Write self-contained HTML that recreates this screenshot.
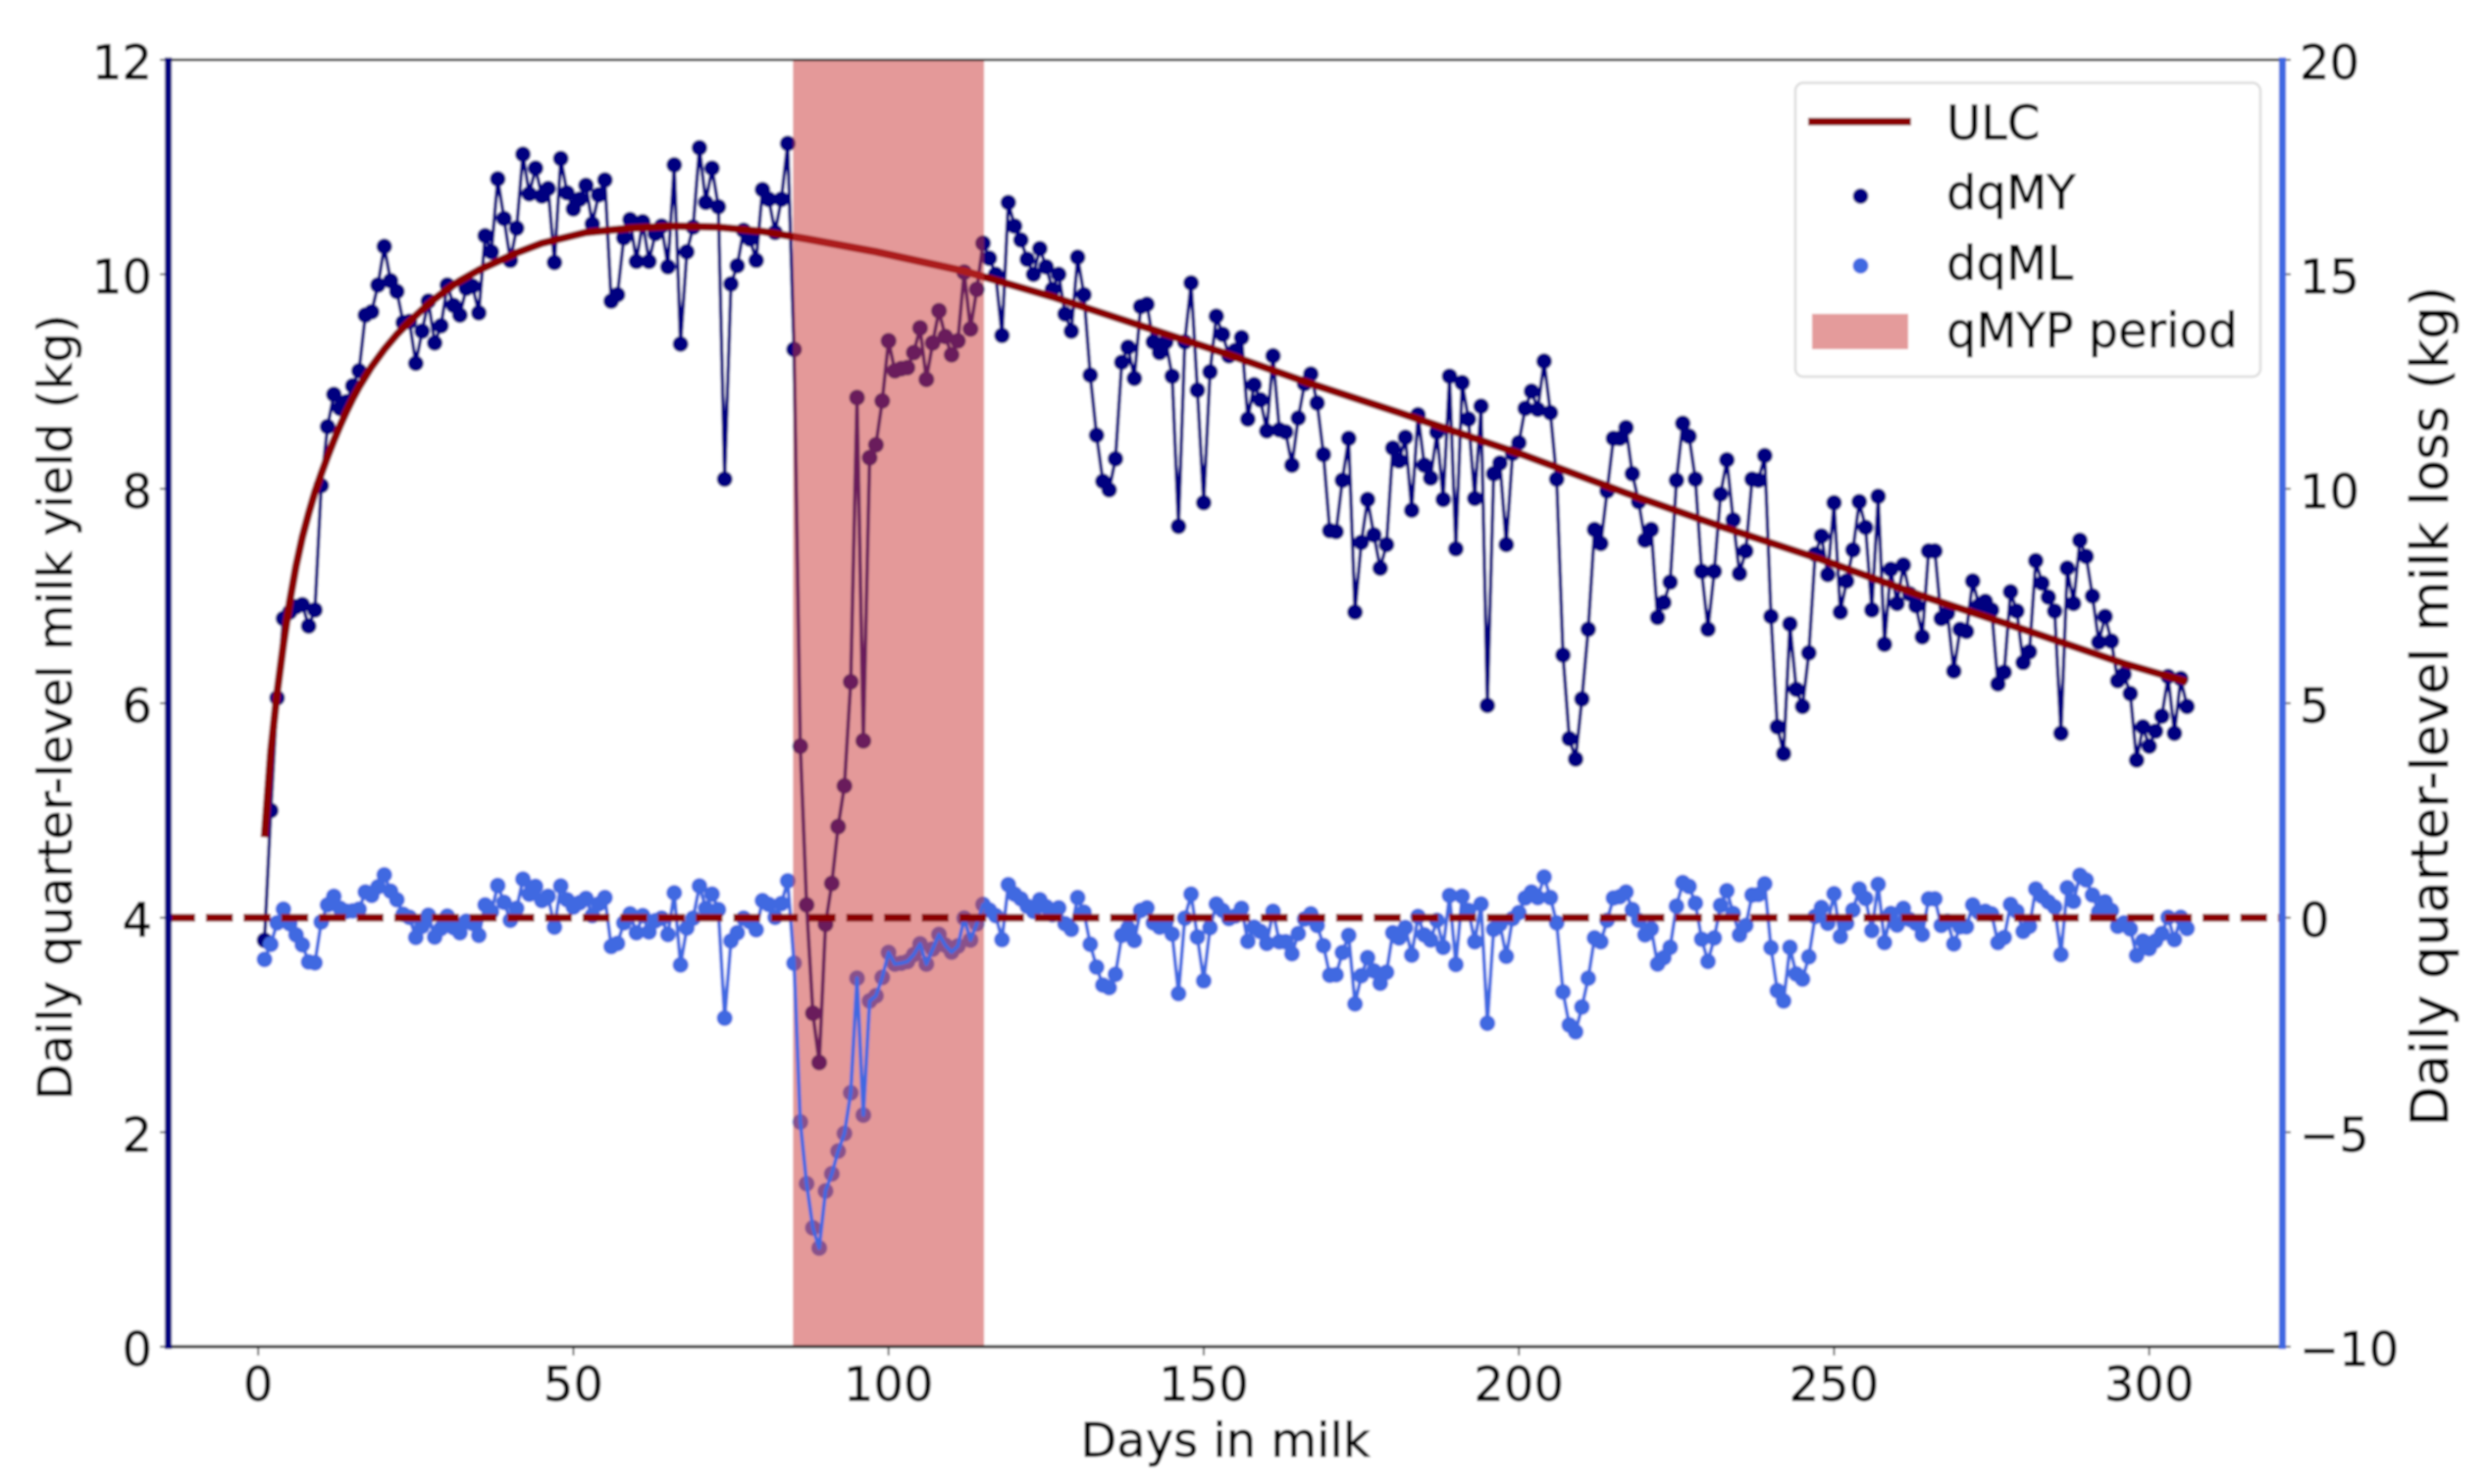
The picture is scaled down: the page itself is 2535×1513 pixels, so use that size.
<!DOCTYPE html>
<html lang="en">
<head>
<meta charset="utf-8">
<title>Daily quarter-level milk yield and loss</title>
<style>
html,body{margin:0;padding:0;background:#fff;}
svg{display:block;}
text{font-family:"DejaVu Sans","Liberation Sans",sans-serif;fill:#000;stroke:#000;stroke-width:0.7px;}
</style>
</head>
<body>
<svg id="chart" xmlns="http://www.w3.org/2000/svg" width="2535" height="1513" viewBox="0 0 2535 1513">
<defs>
<filter id="soft" x="0" y="0" width="100%" height="100%" filterUnits="userSpaceOnUse" primitiveUnits="userSpaceOnUse"><feGaussianBlur stdDeviation="1.1"/></filter>
<clipPath id="plotClip"><rect x="171" y="61" width="2155.5" height="1312"/></clipPath>
</defs>
<g id="root" filter="url(#soft)">
<rect x="0" y="0" width="2535" height="1513" fill="#fff"/>
<g id="plot"></g>
<g id="axes"></g>
<text x="1249" y="1485" font-size="48" text-anchor="middle">Days in milk</text>
<text transform="translate(73,721) rotate(-90)" font-size="48" text-anchor="middle">Daily quarter-level milk yield (kg)</text>
<text transform="translate(2495,720) rotate(-90)" font-size="52.8" text-anchor="middle">Daily quarter-level milk loss (kg)</text>
<g>
<rect x="1830" y="84.5" width="474" height="299.5" rx="8" fill="#fff" fill-opacity="0.9" stroke="#dcdcdc" stroke-width="2.5"/>
<line x1="1843" y1="124" x2="1948" y2="124" stroke="#8b0000" stroke-width="8"/>
<circle cx="1896.5" cy="200" r="8" fill="#000080"/>
<circle cx="1896.5" cy="271" r="8" fill="#4169e1"/>
<rect x="1847" y="320" width="98" height="36" fill="#e49b9b"/>
<text x="1984" y="142" font-size="48">ULC</text>
<text x="1984" y="213" font-size="48">dqMY</text>
<text x="1984" y="285" font-size="48">dqML</text>
<text x="1984" y="354" font-size="49" textLength="297" lengthAdjust="spacingAndGlyphs">qMYP period</text>
</g>
</g>
</svg>
<script>
// Values (day 1 .. 306)
const dqMY = [
3.79,5.0,6.05,6.79,6.85,6.9,6.92,6.72,6.87,8.03,
8.58,8.88,8.75,8.81,8.96,9.1,9.62,9.65,9.9,10.26,
9.94,9.84,9.55,9.56,9.17,9.47,9.75,9.36,9.52,9.9,
9.71,9.62,9.87,9.89,9.64,10.36,10.21,10.89,10.52,10.13,
10.43,11.12,10.75,10.99,10.73,10.8,10.11,11.08,10.76,10.61,
10.7,10.83,10.47,10.74,10.88,9.75,9.81,10.34,10.51,10.12,
10.49,10.12,10.38,10.45,10.07,11.02,9.35,10.21,10.44,11.18,
10.67,10.99,10.63,8.09,9.91,10.08,10.41,10.33,10.13,10.79,
10.7,10.39,10.7,11.22,9.3,5.6,4.12,3.11,2.65,3.94,
4.32,4.85,5.23,6.2,8.85,5.65,8.29,8.41,8.82,9.38,
9.1,9.12,9.13,9.27,9.5,9.02,9.36,9.66,9.42,9.25,
9.38,10.02,9.49,9.86,10.29,10.15,10.0,9.43,10.67,10.45,
10.32,10.14,10.0,10.24,10.07,9.86,10.0,9.63,9.47,10.16,
9.81,9.06,8.5,8.07,7.99,8.28,9.18,9.32,9.03,9.7,
9.72,9.37,9.27,9.37,9.05,7.65,9.37,9.92,8.92,7.87,
9.09,9.61,9.44,9.24,9.29,9.41,8.65,8.97,8.83,8.54,
9.24,8.55,8.53,8.22,8.66,8.98,9.07,8.8,8.32,7.61,
7.6,8.08,8.47,6.85,7.5,7.9,7.57,7.26,7.48,8.38,
8.26,8.48,7.8,8.69,8.22,8.1,8.53,7.9,9.05,7.44,
8.99,8.65,7.91,8.77,5.98,8.14,8.24,7.48,8.33,8.43,
8.75,8.91,8.74,9.19,8.71,8.09,6.45,5.67,5.48,6.04,
6.69,7.62,7.49,7.98,8.47,8.47,8.57,8.14,7.88,7.52,
7.62,6.8,6.94,7.13,8.08,8.61,8.49,8.09,7.23,6.69,
7.23,7.95,8.27,7.71,7.21,7.42,8.09,8.08,8.31,6.81,
5.78,5.53,6.74,6.13,5.97,6.47,7.39,7.56,7.2,7.87,
6.85,7.14,7.43,7.88,7.64,6.87,7.93,6.55,7.25,6.93,
7.29,7.02,6.91,6.62,7.42,7.42,6.79,6.84,6.3,6.69,
6.67,7.14,6.91,6.95,6.87,6.18,6.29,7.04,6.86,6.38,
6.48,7.33,7.12,6.99,6.86,5.72,7.26,6.93,7.52,7.37,
7.0,6.57,6.81,6.58,6.21,6.27,6.09,5.47,5.78,5.6,
5.74,5.88,6.25,5.72,6.23,5.97];
const dqML = [
-0.97,-0.62,-0.12,0.2,-0.14,-0.4,-0.63,-1.03,-1.05,-0.1,
0.3,0.5,0.22,0.15,0.16,0.2,0.6,0.52,0.72,1.0,
0.62,0.42,0.08,0.01,-0.46,-0.2,0.06,-0.45,-0.25,0.04,
-0.23,-0.35,-0.08,-0.13,-0.41,0.3,0.14,0.75,0.36,-0.06,
0.22,0.9,0.55,0.73,0.4,0.5,-0.22,0.74,0.42,0.25,
0.35,0.45,0.05,0.32,0.47,-0.67,-0.6,-0.12,0.09,-0.35,
0.05,-0.33,-0.07,-0.01,-0.39,0.58,-1.1,-0.24,-0.01,0.74,
0.22,0.55,0.19,-2.34,-0.54,-0.35,-0.01,-0.09,-0.28,0.4,
0.31,0.01,0.33,0.86,-1.06,-4.76,-6.2,-7.23,-7.7,-6.37,
-5.97,-5.44,-5.03,-4.08,-1.41,-4.6,-1.94,-1.82,-1.39,-0.81,
-1.08,-1.06,-1.02,-0.86,-0.61,-1.08,-0.73,-0.39,-0.64,-0.8,
-0.66,-0.01,-0.52,-0.14,0.31,0.18,0.05,-0.51,0.77,0.55,
0.44,0.27,0.15,0.42,0.26,0.07,0.23,-0.14,-0.27,0.47,
0.13,-0.62,-1.15,-1.57,-1.63,-1.32,-0.41,-0.24,-0.53,0.17,
0.23,-0.12,-0.22,-0.1,-0.38,-1.77,-0.01,0.55,-0.45,-1.47,
-0.23,0.32,0.17,-0.02,0.04,0.22,-0.55,-0.22,-0.32,-0.6,
0.15,-0.56,-0.56,-0.84,-0.37,-0.03,0.09,-0.18,-0.65,-1.34,
-1.33,-0.81,-0.41,-2.01,-1.35,-0.93,-1.24,-1.53,-1.27,-0.35,
-0.47,-0.23,-0.87,0.03,-0.4,-0.52,-0.06,-0.69,0.52,-1.09,
0.5,0.17,-0.56,0.32,-2.46,-0.27,-0.15,-0.9,-0.02,0.12,
0.46,0.6,0.47,0.95,0.47,-0.12,-1.73,-2.5,-2.66,-2.08,
-1.41,-0.47,-0.56,-0.06,0.46,0.49,0.6,0.19,-0.06,-0.4,
-0.26,-1.08,-0.93,-0.69,0.27,0.82,0.73,0.34,-0.5,-1.02,
-0.47,0.29,0.63,0.1,-0.4,-0.18,0.53,0.54,0.79,-0.7,
-1.7,-1.94,-0.69,-1.31,-1.43,-0.91,0.03,0.24,-0.13,0.56,
-0.44,-0.13,0.18,0.67,0.45,-0.3,0.78,-0.58,0.1,-0.17,
0.22,-0.04,-0.13,-0.39,0.44,0.44,-0.18,-0.08,-0.61,-0.21,
-0.21,0.3,0.12,0.15,0.09,-0.58,-0.46,0.31,0.15,-0.32,
-0.2,0.67,0.5,0.37,0.25,-0.86,0.7,0.38,0.99,0.88,
0.53,0.14,0.37,0.17,-0.2,-0.12,-0.26,-0.88,-0.54,-0.72,
-0.54,-0.37,0.01,-0.51,0.01,-0.25];
const ulcDays = [1,2,3,4,5,6,7,8,9,10,11,12,13,14,15,16,18,20,22,24,26,28,30,32,35,38,41,45,52,59,66,73,80,87,98,112,126,139,153,167,181,189,201,217,232,248,264,280,296,306];
const ulcValues = [4.75,5.55,6.1,6.55,6.95,7.28,7.55,7.77,7.97,8.14,8.3,8.45,8.59,8.72,8.84,8.95,9.14,9.3,9.44,9.56,9.67,9.77,9.86,9.94,10.04,10.12,10.2,10.29,10.39,10.43,10.45,10.44,10.4,10.33,10.21,10.03,9.79,9.54,9.27,8.98,8.71,8.55,8.31,7.96,7.65,7.34,7.0,6.69,6.37,6.2];
const periodRange = [85,115];
const zeroLoss = [0];
const xTickValues = [0,50,100,150,200,250,300];
const xTickLabels = ["0","50","100","150","200","250","300"];
const leftTickValues = [0,2,4,6,8,10,12];
const leftTickLabels = ["0","2","4","6","8","10","12"];
const rightTickValues = [-10,-5,0,5,10,15,20];
const rightTickLabels = ["\u221210","\u22125","0","5","10","15","20"];

const NS = 'http://www.w3.org/2000/svg';
const xDay = d => 263.2 + 6.425 * d;
const yLeft = v => 1373 - 109.333 * v;
const yRight = v => 935.67 - 43.733 * v;
const plot = document.getElementById('plot');
const axes = document.getElementById('axes');
plot.setAttribute('clip-path', 'url(#plotClip)');

function make(tag, parent, attrs) {
  const el = document.createElementNS(NS, tag);
  for (const k in attrs) el.setAttribute(k, attrs[k]);
  parent.appendChild(el);
  return el;
}
function pointsOf(xs, ys, fy) {
  return xs.map((x, i) => xDay(x).toFixed(2) + ',' + fy(ys[i]).toFixed(2)).join(' ');
}
const days = dqMY.map((_, i) => i + 1);

// dqMY line and markers
const myLine = make('polyline', plot, {points: pointsOf(days, dqMY, yLeft), fill: 'none', stroke: '#000080', 'stroke-width': 3.8, 'stroke-linejoin': 'round'});


dqMY.forEach((v, i) => {
  const c = make('circle', plot, {cx: xDay(days[i]).toFixed(2), cy: yLeft(v).toFixed(2), r: 8.1, fill: '#000080'});
  
  
});

// ULC curve
const ulcLine = make('polyline', plot, {points: pointsOf(ulcDays, ulcValues, yLeft), fill: 'none', stroke: '#8b0000', 'stroke-width': 8, 'stroke-linejoin': 'round'});



// dqML markers
dqML.forEach((v, i) => {
  const c = make('circle', plot, {cx: xDay(days[i]).toFixed(2), cy: yRight(v).toFixed(2), r: 8.1, fill: '#4169e1'});
  
  
});

// qMYP shaded period
const span = make('rect', plot, {x: (xDay(periodRange[0]) - 1).toFixed(2), y: 61, width: (xDay(periodRange[1]) - xDay(periodRange[0]) + 2).toFixed(2), height: 1312, fill: 'rgb(204,60,60)', 'fill-opacity': 0.52});



// dqML line (above the shading)
const mlLine = make('polyline', plot, {points: pointsOf(days, dqML, yRight), fill: 'none', stroke: '#4169e1', 'stroke-width': 3.8, 'stroke-linejoin': 'round'});



// zero-loss dashed reference
const zero = make('line', plot, {x1: 171.5, x2: 2326, y1: yRight(zeroLoss[0]).toFixed(2), y2: yRight(zeroLoss[0]).toFixed(2), stroke: '#8b0000', 'stroke-width': 7.8, 'stroke-dasharray': '27.5 10.9'});



// Spines
const topSpine = make('line', axes, {x1: 171, x2: 2326.5, y1: 61, y2: 61, stroke: '#111', 'stroke-width': 2.4});


const bottomSpine = make('line', axes, {x1: 171, x2: 2326.5, y1: 1373, y2: 1373, stroke: '#222', 'stroke-width': 3.2});



// X ticks
xTickValues.forEach((v, i) => {
  const t = make('line', axes, {x1: xDay(v).toFixed(2), x2: xDay(v).toFixed(2), y1: 1373, y2: 1382, stroke: '#333', 'stroke-width': 1.8});
  
  
  const l = make('text', axes, {x: xDay(v).toFixed(2), y: 1428, 'font-size': 48, 'text-anchor': 'middle'});
  l.textContent = xTickLabels[i];
  
  
});

// Left ticks
leftTickValues.forEach((v, i) => {
  const t = make('line', axes, {x1: 163, x2: 171, y1: yLeft(v).toFixed(2), y2: yLeft(v).toFixed(2), stroke: '#333', 'stroke-width': 1.8});
  
  
  const l = make('text', axes, {x: 155, y: (yLeft(v) + 19.5).toFixed(2), 'font-size': 48, 'text-anchor': 'end'});
  l.textContent = leftTickLabels[i];
  
  
});

// Right ticks
rightTickValues.forEach((v, i) => {
  const t = make('line', axes, {x1: 2326.5, x2: 2335, y1: yRight(v).toFixed(2), y2: yRight(v).toFixed(2), stroke: '#333', 'stroke-width': 1.8});
  
  
  const l = make('text', axes, {x: 2344, y: (yRight(v) + 19.5).toFixed(2), 'font-size': 48, 'text-anchor': 'start'});
  l.textContent = rightTickLabels[i];
  
  
});

// Coloured side spines
const leftSpine = make('line', axes, {x1: 171.5, x2: 171.5, y1: 58.5, y2: 1375.5, stroke: '#000080', 'stroke-width': 7.2});


const rightSpine = make('line', axes, {x1: 2326.5, x2: 2326.5, y1: 58.5, y2: 1375.5, stroke: '#4169e1', 'stroke-width': 7.2});


</script>
</body>
</html>
